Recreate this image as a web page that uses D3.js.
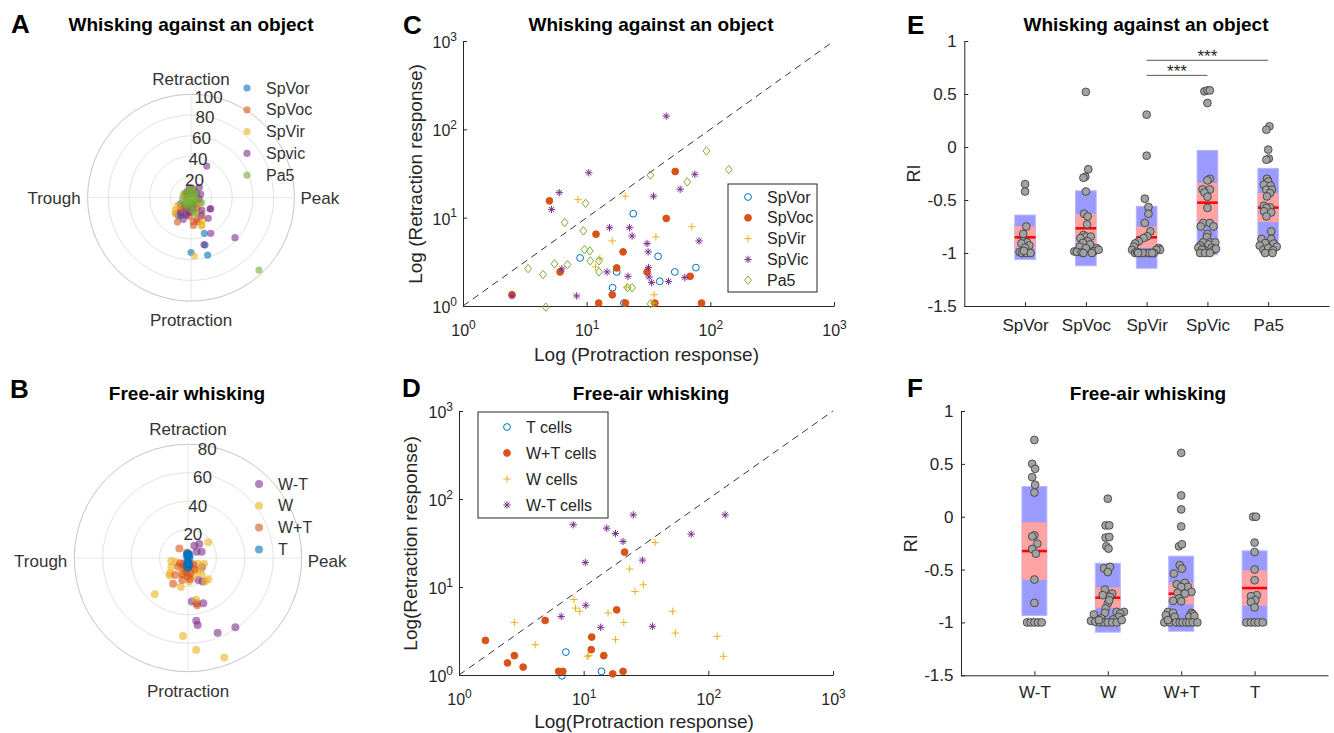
<!DOCTYPE html>
<html>
<head>
<meta charset="utf-8">
<script src="https://cdn.jsdelivr.net/npm/d3@7"></script>
<style>
body{margin:0;background:#fff;}
svg text{font-family:"Liberation Sans",Arial,Helvetica,sans-serif;}
</style>
</head>
<body>
<svg id="fig" width="1334" height="733"></svg>
<script>
// ---------- A: polar, whisking against an object  [phase angle (deg), magnitude]
const aSpVor = [[-90,53],[-73.8,57.8],[-73.5,47.8],[-69.5,36.8],[-124.7,21.5],[-120,20],[-100,10],[-80,6],[95,4],[-150,12],[-110,16]];
const aSpVoc = [[-131.8,16],[-132,20.5],[-119,27],[-84.4,23.3],[-73,24.3],[-76,22],[-100,15],[-60,12],[-110,10],[-95,18],[-140,13],[150,6],[-45,8],[-85,27],[-125,12]];
const aSpVir = [[-142.4,19.5],[-86.7,56.5],[-68.6,28.4],[-61,24.7],[-69,29],[-150,15],[-120,14],[-70,16],[-30,10],[170,8],[-135,22],[-55,19]];
const aSpvic = [[63.6,34.2],[51,12.8],[70,8.5],[37,6.9],[126,7.1],[-42.3,57.5],[-74.5,47],[-61,39.4],[-29,21.8],[-50,26],[-30.7,21.4],[-109.5,22.2],[-106,17.4],[-49,15.8],[-95,14],[-60,20],[-115,12],[-80,10],[20,10],[-10,8],[100,10],[-125,18]];
const aPa5 = [[-46.8,96],[-25,11.4],[-75.7,15.7],[90,3],[110,6],[60,5],[135,4],[-150,6],[-120,7],[-90,5],[-60,7],[-30,4],[0,3],[180,3],[-100,10],[-130,9],[-80,12],[150,8],[80,9],[-170,8],[40,6],[100,8],[-110,4],[-20,6]];
const aRings = [20,40,60,80,100];

// ---------- B: polar, free-air whisking
const bWmT = [[-68.4,56.6],[-55.6,59],[-82.5,44.6],[-81.8,47.7],[-85,30.8],[-79,32.4],[-71.3,33.6],[63,9.7],[51,12.6],[36,7.5],[24.8,10.6],[-64.9,17],[-58,19.5],[-32.7,11.7]];
const bW = [[-132.5,34.6],[-93.7,55],[-84.9,65],[-70,74.5],[-79,30],[37.7,18],[-151.7,13.3],[-136.6,17.7],[-104,21],[-87,16.6],[-54,20.4],[-46.4,20.7],[-43.5,11.9],[-139.6,16.6],[-105,12.4],[-120,8],[-60,10],[-30,8],[-160,9],[-100,7],[-70,13],[-20,12],[-170,12],[-50,15]];
const bWpT = [[-79,33.8],[132,9.1],[-120,20.9],[-127,15],[-146,6.7],[-138,9.1],[-81.6,11.1],[-100,8],[-80,6],[-110,12],[-60,9],[-90,13],[-130,5],[-70,4],[100,4],[-95,10],[-115,6],[-50,6],[-85,15],[-105,16]];
const bT = [[90,3],[90,2],[80,3],[100,3],[-90,3],[-80,5],[-100,5],[-90,7],[60,2],[120,2],[95,1],[-95,6],[0,1],[-85,4],[-100,2]];
const bRings = [20,40,60,80];

// ---------- C: protraction vs retraction response, object  [protraction, retraction]
const cSpVor = [[8.85,3.5],[23.8,11.1],[17.5,2.43],[16.2,1.61],[37.8,3.65],[39,1.9],[51.6,2.43],[76.4,2.72],[20,1.08]];
const cSpVoc = [[5.0,15.5],[2.49,1.34],[6.1,2.43],[11.9,6.5],[19.7,4.1],[17.5,2.7],[16.1,1.34],[12.5,1.08],[20.6,1.08],[30.8,2.43],[44,9.8],[52,33.3],[68.7,2.17],[84.9,1.08],[35.6,1.08]];
const cSpVir = [[8.5,16],[20.5,17.5],[16.1,5.45],[36.3,6.05],[70.9,7.9],[12.8,3.44],[11.8,2.77],[21,1.64],[35.1,1.34],[34.4,1.08]];
const cSpVic = [[44,141],[10.4,32.2],[6.0,19.2],[5.2,12.4],[34.7,17.5],[57,21],[75,31],[81,5.45],[15.3,7.7],[22.2,7.7],[23.3,6.2],[30.8,5.1],[31.4,4.1],[31.6,2.72],[14.6,2.43],[21.6,2.17],[32,2.13],[33.5,1.84],[45.9,1.9],[62.2,2.1],[6.3,2.63],[8.3,1.3],[2.49,1.3]];
const cPa5 = [[93,57],[141,35],[32.8,30.3],[65,25.4],[9.8,14.5],[6.65,8.8],[9.4,7.1],[9.6,4.35],[10.6,4.2],[10.7,3.24],[12.6,3.24],[12.6,2.43],[7.0,2.94],[5.5,3.0],[3.36,2.65],[4.44,2.27],[4.67,0.97],[21.4,1.61],[23.3,1.61],[32.8,1.06]];

// ---------- D: free-air whisking
const dT = [[7.2,1.82],[13.9,1.1],[6.7,0.98]];
const dWpT = [[1.63,2.47],[2.45,1.37],[2.78,1.66],[3.27,1.23],[4.91,4.17],[6.3,1.1],[6.8,1.1],[11.5,1.94],[11.6,2.7],[14.5,1.66],[18.4,5.5],[17.1,1.03],[20.7,1.1],[21.3,24.9]];
const dW = [[2.78,3.96],[4.08,2.21],[8.35,7.2],[8.6,5.76],[9.3,5.3],[10.7,1.63],[11.0,1.66],[15.7,5.07],[18,2.52],[21,3.96],[23.4,16],[25.8,8.9],[30.1,10.6],[37.4,32],[51.8,5.3],[54.4,3.0],[117.7,2.75],[132,1.63]];
const dWmT = [[6.6,4.63],[10.3,19],[10.4,6.2],[8.25,51],[15.3,46.6],[18,40.5],[20.7,32.9],[25,66],[29.6,20.2],[13.7,3.48],[35.6,3.57],[72.8,39.9],[136.5,66]];
const logTicks = [1,10,100,1000];

// ---------- E: RI per nucleus  (points are [jitter, RI])
const eCats = ['SpVor','SpVoc','SpVir','SpVic','Pa5'];
const eMean = [-0.852,-0.767,-0.852,-0.525,-0.572];
const eSD = [0.21,0.354,0.292,0.492,0.37];
const eCI = [0.105,0.137,0.1,0.187,0.137];
const ePts = [
  [[0,-0.35],[0,-0.42],[0.02,-0.75],[-0.03,-0.82],[-0.03,-0.89],[0.03,-0.9],[0.07,-0.93],[-0.06,-0.91],[0,-0.95],[-0.09,-0.99],[-0.05,-1],[0.02,-1],[0.09,-1],[-0.02,-0.98]],
  [[0,0.52],[0.04,-0.21],[-0.01,-0.28],[-0.04,-0.29],[0,-0.42],[-0.03,-0.63],[0.03,-0.655],[0.02,-0.73],[-0.04,-0.83],[0,-0.845],[0.08,-0.845],[-0.09,-0.86],[0.03,-0.89],[-0.05,-0.905],[0.07,-0.92],[-0.1,-0.94],[0,-0.955],[0.18,-0.955],[-0.19,-0.985],[-0.15,-0.99],[-0.07,-0.995],[0.13,-0.985],[0.21,-0.97],[0.1,-1],[-0.04,-1]],
  [[0,0.305],[0,-0.082],[-0.03,-0.488],[0.03,-0.566],[0.03,-0.63],[-0.03,-0.717],[0.06,-0.796],[0.01,-0.843],[-0.05,-0.859],[-0.13,-0.89],[-0.19,-0.91],[-0.21,-0.94],[0.2,-0.953],[-0.24,-0.97],[0.22,-0.97],[0.16,-0.97],[-0.19,-1],[-0.11,-1],[-0.02,-1],[0.06,-1],[0.12,-1],[-0.16,-0.99],[0.04,-1],[-0.07,-1],[0.09,-1],[-0.14,-1]],
  [[-0.05,0.525],[0,0.534],[0.04,0.534],[0,0.415],[0.04,-0.3],[0,-0.315],[-0.08,-0.4],[0.04,-0.4],[-0.05,-0.43],[0,-0.47],[0,-0.575],[-0.07,-0.717],[0.04,-0.717],[-0.11,-0.75],[0.1,-0.75],[0,-0.82],[-0.01,-0.85],[0.04,-0.9],[-0.07,-0.9],[-0.12,-0.93],[0.13,-0.9],[0.02,-0.92],[-0.15,-0.95],[0.07,-0.95],[-0.09,-0.97],[0.1,-0.97],[0.14,-0.96],[-0.12,-1],[-0.04,-1],[0.04,-1]],
  [[0.02,0.195],[-0.03,0.163],[0,-0.025],[0.01,-0.11],[-0.03,-0.12],[-0.02,-0.3],[0,-0.325],[-0.07,-0.356],[0.04,-0.365],[-0.03,-0.403],[0.06,-0.403],[0.03,-0.434],[-0.02,-0.466],[-0.07,-0.554],[0.03,-0.57],[-0.03,-0.575],[-0.07,-0.607],[0.05,-0.617],[-0.03,-0.655],[0.05,-0.796],[-0.11,-0.868],[0.05,-0.868],[-0.05,-0.906],[0.09,-0.912],[-0.14,-0.93],[0.14,-0.94],[-0.08,-0.97],[0,-0.953],[0.08,-0.975],[-0.05,-1],[0.07,-1]]
];
const eSig = [[3,5,0.818],[3,4,0.676]];

// ---------- F: RI per cell class
const fCats = ['W-T','W','W+T','T'];
const fMean = [-0.325,-0.766,-0.728,-0.675];
const fSD = [0.61,0.326,0.355,0.352];
const fCI = [0.273,0.097,0.1,0.167];
const fPts = [
  [[0,0.726],[-0.03,0.5],[0.01,0.453],[-0.03,0.374],[0.01,0.302],[0,0.229],[0,-0.176],[-0.03,-0.186],[0.04,-0.255],[-0.03,-0.305],[0.02,-0.349],[0,-0.594],[0,-0.815],[-0.1,-1],[-0.05,-1],[0,-1],[0.05,-1],[0.1,-1]],
  [[0,0.17],[-0.03,-0.082],[0.02,-0.082],[-0.03,-0.198],[0.02,-0.192],[-0.02,-0.28],[0.01,-0.302],[-0.05,-0.488],[0.03,-0.475],[0,-0.523],[-0.04,-0.689],[0.06,-0.727],[-0.07,-0.742],[0.03,-0.758],[0,-0.821],[0.02,-0.79],[-0.03,-0.868],[0.12,-0.9],[0.22,-0.9],[0.17,-0.915],[-0.04,-0.909],[0.15,-0.947],[-0.19,-0.925],[-0.09,-0.962],[0.07,-0.972],[-0.23,-0.985],[-0.17,-0.994],[-0.11,-1],[-0.05,-1],[0,-1],[0.06,-1],[0.12,-1],[-0.12,-0.978],[0.19,-0.978]],
  [[0,0.604],[0,0.201],[0,0.069],[0,-0.092],[-0.03,-0.28],[0.01,-0.261],[-0.02,-0.459],[0.01,-0.491],[-0.1,-0.538],[0.05,-0.626],[-0.06,-0.639],[0.09,-0.664],[0,-0.664],[0.14,-0.711],[-0.05,-0.72],[0.05,-0.727],[-0.03,-0.774],[-0.11,-0.796],[0,-0.8],[-0.18,-0.9],[-0.11,-0.909],[0.14,-0.909],[0.16,-0.922],[-0.21,-0.931],[-0.09,-0.947],[0.11,-0.947],[0.18,-0.94],[-0.23,-1],[-0.16,-1],[-0.07,-1],[-0.02,-1],[0.02,-1],[0.07,-1],[0.11,-1],[0.16,-1],[0.22,-1],[-0.18,-0.978]],
  [[-0.02,0],[0.02,0],[0,-0.245],[0,-0.334],[0,-0.5],[0,-0.601],[0.03,-0.742],[-0.05,-0.752],[0.01,-0.79],[-0.05,-0.806],[0,-0.858],[-0.11,-1],[-0.05,-1],[0,-1],[0.05,-1],[0.11,-1]]
];

const BLUE = '#0072BD', ORANGE = '#D95319', YELLOW = '#EDB120', PURPLE = '#7E2F8E', GREEN = '#77AC30';
const AX = '#262626';
const svg = d3.select('#fig');

function label(x, y, str, size, opts = {}) {
  return svg.append('text').attr('x', x).attr('y', y)
    .attr('font-size', size)
    .attr('font-weight', opts.bold ? 'bold' : null)
    .attr('text-anchor', opts.anchor || 'start')
    .attr('fill', opts.color || '#000')
    .text(str);
}

// ---------------- polar panels ----------------
function polar(p) {
  const g = svg.append('g').attr('transform', `translate(${p.cx},${p.cy})`);
  const r = d3.scaleLinear().domain([0, p.max]).range([0, p.R]);
  const rad = a => a * Math.PI / 180;

  g.selectAll('circle.ring').data(p.rings).join('circle').attr('class', 'ring')
    .attr('r', d => r(d)).attr('fill', 'none')
    .attr('stroke', d => d === p.max ? '#c4c4c4' : '#e2e2e2').attr('stroke-width', 1);
  g.append('line').attr('x1', -p.R).attr('x2', p.R).attr('stroke', '#e6e6e6');
  g.append('line').attr('y1', -p.R).attr('y2', p.R).attr('stroke', '#e6e6e6');

  p.series.forEach(s => {
    g.append('g').selectAll('circle').data(s.data).join('circle')
      .attr('cx', d => r(d[1]) * Math.cos(rad(d[0])))
      .attr('cy', d => -r(d[1]) * Math.sin(rad(d[0])))
      .attr('r', p.dot).attr('fill', s.color).attr('fill-opacity', 0.6);
  });

  g.selectAll('text.rl').data(p.rings).join('text').attr('class', 'rl')
    .attr('x', d => 0.17 * r(d)).attr('y', d => -r(d) + p.labDy)
    .attr('text-anchor', 'middle').attr('font-size', 17).attr('fill', '#333')
    .text(d => d);

  const dir = [
    ['Retraction', 0, -p.R - 9, 'middle'],
    ['Trough', -p.R - 7, p.sideDy, 'end'],
    ['Peak', p.R + 6, p.sideDy, 'start'],
    ['Protraction', 0, p.R + 25, 'middle']
  ];
  dir.forEach(d => g.append('text').attr('x', d[1]).attr('y', d[2])
    .attr('text-anchor', d[3]).attr('font-size', 17).attr('fill', '#333').text(d[0]));

  const lg = svg.append('g');
  p.series.forEach((s, i) => {
    const y = p.legend.y + i * 21.8;
    lg.append('circle').attr('cx', p.legend.x).attr('cy', y).attr('r', p.dot)
      .attr('fill', s.color).attr('fill-opacity', 0.6);
    lg.append('text').attr('x', p.legend.x + 19).attr('y', y + 5.5)
      .attr('font-size', 16).attr('fill', '#333').text(s.name);
  });
}

polar({
  cx: 191, cy: 197.7, R: 103.4, max: 100, rings: aRings, dot: 3.6, labDy: 8.5, sideDy: 6.5,
  legend: { x: 247, y: 88 },
  series: [
    { name: 'SpVor', color: BLUE, data: aSpVor },
    { name: 'SpVoc', color: ORANGE, data: aSpVoc },
    { name: 'SpVir', color: YELLOW, data: aSpVir },
    { name: 'Spvic', color: PURPLE, data: aSpvic },
    { name: 'Pa5', color: GREEN, data: aPa5 }
  ]
});
polar({
  cx: 188, cy: 558, R: 113.7, max: 80, rings: bRings, dot: 4, labDy: 10.5, sideDy: 8.5,
  legend: { x: 259, y: 484 },
  series: [
    { name: 'W-T', color: PURPLE, data: bWmT },
    { name: 'W', color: YELLOW, data: bW },
    { name: 'W+T', color: ORANGE, data: bWpT },
    { name: 'T', color: BLUE, data: bT }
  ]
});

// ---------------- log-log panels ----------------
function markerPath(type) {
  const s = 3.7, k = 2.6;
  if (type === 'plus') return `M${-s},0H${s}M0,${-s}V${s}`;
  if (type === 'star') return `M${-s},0H${s}M0,${-s}V${s}M${-k},${-k}L${k},${k}M${-k},${k}L${k},${-k}`;
  if (type === 'diamond') return `M0,-4.2L3.4,0L0,4.2L-3.4,0Z`;
  return d3.symbol(d3.symbolCircle, Math.PI * 3.4 * 3.4)();
}
function drawMarker(sel, s) {
  sel.attr('d', markerPath(s.type))
    .attr('fill', s.type === 'dot' ? s.color : 'none')
    .attr('stroke', s.color).attr('stroke-width', 1);
}
function supTicks(g, axis) {
  g.selectAll('.tick text').each(function (d) {
    const t = d3.select(this).text(null).attr('dy', null)
      .attr('font-size', 16).attr('fill', AX);
    if (axis === 'x') t.attr('y', 30); else t.attr('x', -6).attr('y', 6.5);
    t.append('tspan').text('10');
    t.append('tspan').attr('dy', '-0.6em').attr('font-size', 12).text(Math.round(Math.log10(d)));
  });
}

function logPanel(p) {
  const x = d3.scaleLog().domain([1, 1000]).range([p.left, p.right]);
  const y = d3.scaleLog().domain([1, 1000]).range([p.bottom, p.top]);
  const minor = d3.range(0, 3).flatMap(e => d3.range(2, 10).map(k => k * Math.pow(10, e)));

  svg.append('line')
    .attr('x1', x(1)).attr('y1', y(1)).attr('x2', x(1000)).attr('y2', y(1000))
    .attr('stroke', '#333').attr('stroke-width', 1).attr('stroke-dasharray', '7,5');

  const gx = svg.append('g').attr('transform', `translate(0,${p.bottom})`);
  gx.call(d3.axisBottom(x).tickValues(minor).tickFormat('').tickSizeInner(-3).tickSizeOuter(0));
  gx.call(d3.axisBottom(x).tickValues(logTicks).tickSizeInner(-4).tickSizeOuter(0));
  const gy = svg.append('g').attr('transform', `translate(${p.left},0)`);
  gy.call(d3.axisLeft(y).tickValues(minor).tickFormat('').tickSizeInner(-3).tickSizeOuter(0));
  gy.call(d3.axisLeft(y).tickValues(logTicks).tickSizeInner(-4).tickSizeOuter(0));
  [gx, gy].forEach(g => g.selectAll('path,line').attr('stroke', AX));
  supTicks(gx, 'x'); supTicks(gy, 'y');

  p.series.forEach(s => {
    svg.append('g').selectAll('path').data(s.data).join('path')
      .attr('transform', d => `translate(${x(d[0])},${y(d[1])})`)
      .call(drawMarker, s);
  });

  label((p.left + p.right) / 2 - 2, p.xlabY, p.xlab, 19, { anchor: 'middle', color: AX });
  svg.append('text')
    .attr('transform', `translate(${p.ylabX},${(p.top + p.bottom) / 2 + 0.5}) rotate(-90)`)
    .attr('text-anchor', 'middle').attr('font-size', 19).attr('fill', AX).text(p.ylab);

  const L = p.legend;
  svg.append('rect').attr('x', L.x).attr('y', L.y).attr('width', L.w).attr('height', L.h)
    .attr('fill', '#fff').attr('stroke', AX).attr('stroke-width', 1);
  p.series.slice().sort((a, b) => a.li - b.li).forEach((s, i) => {
    const yy = L.y + L.first + i * L.dy;
    svg.append('path').attr('transform', `translate(${L.x + L.mx},${yy})`).call(drawMarker, s);
    label(L.x + L.tx, yy + 5.5, s.name, 16, { color: AX });
  });
}

logPanel({
  left: 463, right: 834, top: 41, bottom: 306,
  xlab: 'Log (Protraction response)', xlabY: 361, ylab: 'Log (Retraction response)', ylabX: 422,
  legend: { x: 728, y: 184, w: 89, h: 108, first: 13, dy: 20.8, mx: 20, tx: 39 },
  series: [
    { name: 'SpVor', color: BLUE, type: 'circle', data: cSpVor, li: 0 },
    { name: 'SpVoc', color: ORANGE, type: 'dot', data: cSpVoc, li: 1 },
    { name: 'SpVir', color: YELLOW, type: 'plus', data: cSpVir, li: 2 },
    { name: 'SpVic', color: PURPLE, type: 'star', data: cSpVic, li: 3 },
    { name: 'Pa5', color: GREEN, type: 'diamond', data: cPa5, li: 4 }
  ]
});
logPanel({
  left: 459, right: 833, top: 411, bottom: 675,
  xlab: 'Log(Protraction response)', xlabY: 728, ylab: 'Log(Retraction response)', ylabX: 417,
  legend: { x: 478, y: 412, w: 130, h: 106, first: 15, dy: 26, mx: 29, tx: 48 },
  series: [
    { name: 'T cells', color: BLUE, type: 'circle', data: dT, li: 0 },
    { name: 'W+T cells', color: ORANGE, type: 'dot', data: dWpT, li: 1 },
    { name: 'W cells', color: YELLOW, type: 'plus', data: dW, li: 2 },
    { name: 'W-T cells', color: PURPLE, type: 'star', data: dWmT, li: 3 }
  ]
});

// ---------------- RI panels ----------------
function riPanel(p) {
  const x = d3.scaleLinear().domain([0, p.cats.length + 1]).range([p.left, p.right]);
  const y = d3.scaleLinear().domain([-1.5, 1]).range([p.bottom, p.top]);
  const hw = 0.17;

  const gx = svg.append('g').attr('transform', `translate(0,${p.bottom})`)
    .call(d3.axisBottom(x).tickValues(d3.range(1, p.cats.length + 1))
      .tickFormat(d => p.cats[d - 1]).tickSizeInner(-4).tickSizeOuter(0).tickPadding(p.xpad));
  const gy = svg.append('g').attr('transform', `translate(${p.left},0)`)
    .call(d3.axisLeft(y).tickValues([-1.5, -1, -0.5, 0, 0.5, 1])
      .tickFormat(d => String(d)).tickSizeInner(-4).tickSizeOuter(0).tickPadding(7.5));
  [gx, gy].forEach(g => {
    g.selectAll('path,line').attr('stroke', AX);
    g.selectAll('text').attr('font-size', 17).attr('fill', AX).attr('font-family', null);
  });

  p.mean.forEach((m, i) => {
    const c = i + 1;
    svg.append('rect').attr('x', x(c - hw)).attr('width', x(c + hw) - x(c - hw))
      .attr('y', y(m + p.sd[i])).attr('height', y(m - p.sd[i]) - y(m + p.sd[i]))
      .attr('fill', '#9a9aff').attr('stroke', '#b8b8ff').attr('stroke-width', 1);
    svg.append('rect').attr('x', x(c - hw)).attr('width', x(c + hw) - x(c - hw))
      .attr('y', y(m + p.ci[i])).attr('height', y(m - p.ci[i]) - y(m + p.ci[i]))
      .attr('fill', '#ffa3a3');
    svg.append('line').attr('x1', x(c - hw)).attr('x2', x(c + hw))
      .attr('y1', y(m)).attr('y2', y(m)).attr('stroke', '#ff0000').attr('stroke-width', 2.5);
  });

  p.pts.forEach((grp, i) => {
    svg.append('g').selectAll('circle').data(grp).join('circle')
      .attr('cx', d => x(i + 1 + d[0])).attr('cy', d => y(d[1])).attr('r', 3.9)
      .attr('fill', '#a2a2a2').attr('stroke', '#333').attr('stroke-width', 0.8);
  });

  (p.sig || []).forEach(s => {
    svg.append('line').attr('x1', x(s[0])).attr('x2', x(s[1])).attr('y1', y(s[2])).attr('y2', y(s[2]))
      .attr('stroke', '#555').attr('stroke-width', 1);
    label(x((s[0] + s[1]) / 2), y(s[2]) + 2, '***', 17, { anchor: 'middle', color: AX });
  });

  svg.append('text')
    .attr('transform', `translate(${p.ylabX},${(p.top + p.bottom) / 2}) rotate(-90)`)
    .attr('text-anchor', 'middle').attr('font-size', 18).attr('fill', AX).text('RI');
}

riPanel({ left: 964.3, right: 1329, top: 41, bottom: 306, cats: eCats, mean: eMean, sd: eSD, ci: eCI, pts: ePts, sig: eSig, xpad: 13, ylabX: 920 });
riPanel({ left: 961, right: 1328, top: 411, bottom: 675.3, cats: fCats, mean: fMean, sd: fSD, ci: fCI, pts: fPts, xpad: 11, ylabX: 917 });

// ---------------- titles and panel letters ----------------
label(191, 31, 'Whisking against an object', 19, { bold: true, anchor: 'middle' });
label(651, 31, 'Whisking against an object', 19, { bold: true, anchor: 'middle' });
label(1146, 31, 'Whisking against an object', 19, { bold: true, anchor: 'middle' });
label(187, 400, 'Free-air whisking', 19, { bold: true, anchor: 'middle' });
label(651, 400, 'Free-air whisking', 19, { bold: true, anchor: 'middle' });
label(1148, 400, 'Free-air whisking', 19, { bold: true, anchor: 'middle' });
[['A', 11, 33], ['B', 10, 398], ['C', 403, 34], ['D', 402, 397], ['E', 907, 34], ['F', 907, 397]]
  .forEach(d => label(d[1], d[2], d[0], 26, { bold: true }));
</script>
</body>
</html>
